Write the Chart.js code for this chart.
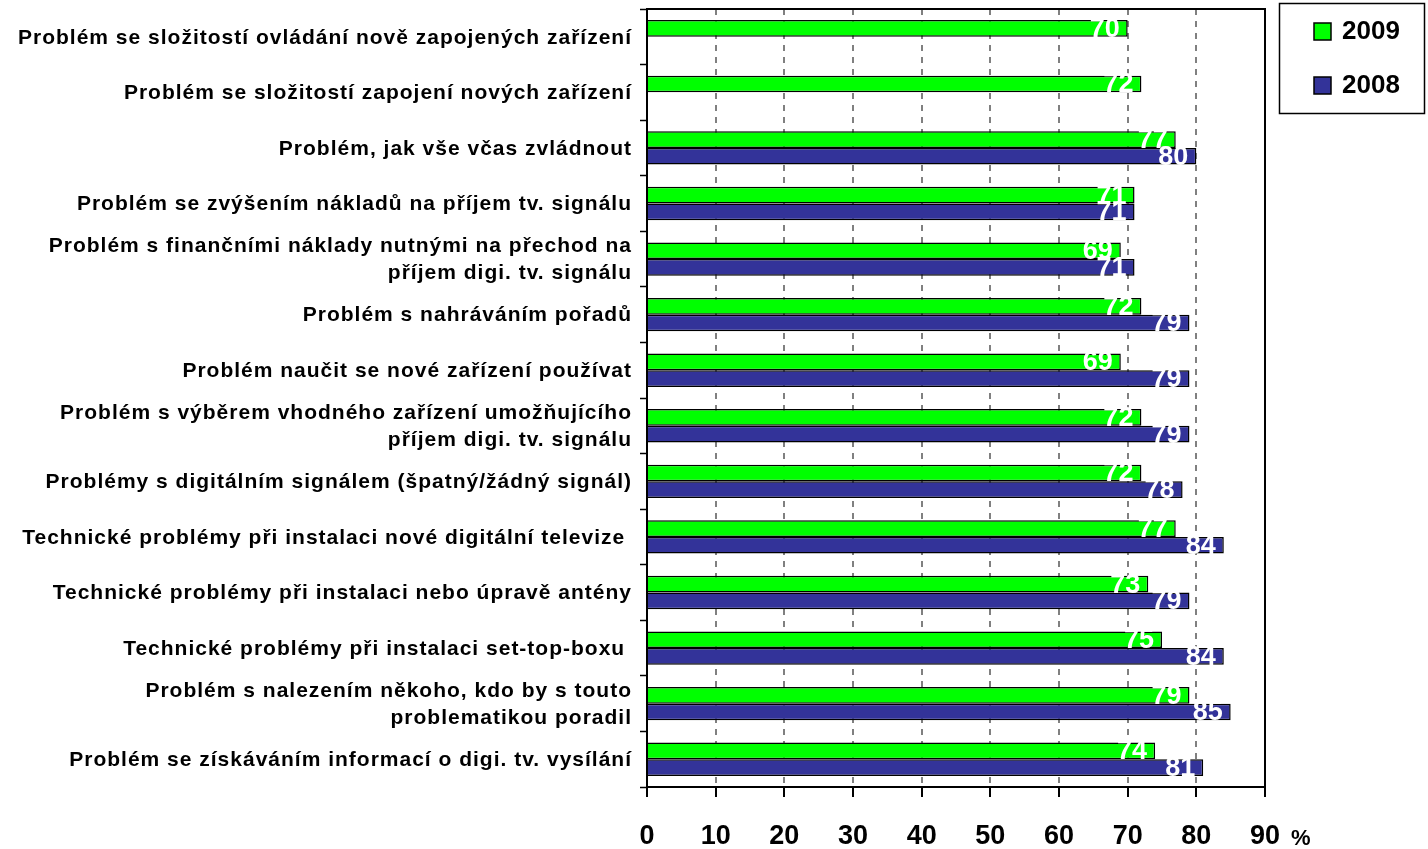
<!DOCTYPE html>
<html>
<head>
<meta charset="utf-8">
<script src="https://cdn.jsdelivr.net/npm/chart.js@4.4.0/dist/chart.umd.min.js"></script>
<style>
  body { margin: 0; background: #fff; }
  #wrap { width: 1428px; height: 849px; }
</style>
</head>
<body>
<div id="wrap"><canvas id="problemsChart" width="1428" height="849"></canvas></div>
<script>
const categories = [
  'Problém se složitostí ovládání nově zapojených zařízení',
  'Problém se složitostí zapojení nových zařízení',
  'Problém, jak vše včas zvládnout',
  'Problém se zvýšením nákladů na příjem tv. signálu',
  ['Problém s finančními náklady nutnými na přechod na', 'příjem digi. tv. signálu'],
  'Problém s nahráváním pořadů',
  'Problém naučit se nové zařízení používat',
  ['Problém s výběrem vhodného zařízení umožňujícího', 'příjem digi. tv. signálu'],
  'Problémy s digitálním signálem (špatný/žádný signál)',
  'Technické problémy při instalaci nové digitální televize ',
  'Technické problémy při instalaci nebo úpravě antény',
  'Technické problémy při instalaci set-top-boxu ',
  ['Problém s nalezením někoho, kdo by s touto', 'problematikou poradil'],
  'Problém se získáváním informací o digi. tv. vysílání'
];
const values2009 = [70, 72, 77, 71, 69, 72, 69, 72, 72, 77, 73, 75, 79, 74];
const values2008 = [null, null, 80, 71, 71, 79, 79, 79, 78, 84, 79, 84, 85, 81];
const xTicks = [0, 10, 20, 30, 40, 50, 60, 70, 80, 90];

const FONT = '"Liberation Sans", Arial, sans-serif';

// category labels, white value labels, plot frame, legend and "%"
const extras = {
  id: 'extras',
  afterDatasetsDraw(chart) {
    const ctx = chart.ctx;
    ctx.save();
    ctx.font = 'bold 27px ' + FONT;
    ctx.fillStyle = '#fff';
    ctx.textAlign = 'right';
    ctx.textBaseline = 'middle';
    chart.data.datasets.forEach((ds, i) => {
      chart.getDatasetMeta(i).data.forEach((bar, j) => {
        if (ds.data[j] == null) return;
        ctx.fillText(String(ds.data[j]), bar.x - 8, bar.y + 1);
      });
    });
    ctx.restore();
  },
  afterDraw(chart) {
    const ctx = chart.ctx;
    const a = chart.chartArea;
    const yScale = chart.scales.y;
    ctx.save();

    // category labels, right aligned against the axis
    ctx.font = 'bold 21px ' + FONT;
    ctx.letterSpacing = '1px';
    ctx.fillStyle = '#000';
    ctx.textAlign = 'right';
    ctx.textBaseline = 'middle';
    categories.forEach((cat, i) => {
      const lines = Array.isArray(cat) ? cat : [cat];
      const cy = yScale.getPixelForValue(i);
      const lh = 27;
      lines.forEach((ln, k) => {
        ctx.fillText(ln, 632, cy + 1 + (k - (lines.length - 1) / 2) * lh);
      });
    });
    ctx.letterSpacing = '0px';

    // top and right frame of the plot
    ctx.strokeStyle = '#000';
    ctx.lineWidth = 2;
    ctx.beginPath();
    ctx.moveTo(a.left, a.top);
    ctx.lineTo(a.right, a.top);
    ctx.lineTo(a.right, a.bottom);
    ctx.stroke();

    // legend box
    ctx.lineWidth = 1.5;
    ctx.strokeRect(1279.5, 3.5, 145, 110);
    const items = [
      { label: '2009', color: '#00ff00', y: 31 },
      { label: '2008', color: '#333399', y: 85 }
    ];
    ctx.font = 'bold 26px ' + FONT;
    ctx.textAlign = 'left';
    items.forEach(it => {
      ctx.fillStyle = it.color;
      ctx.fillRect(1314, it.y - 8, 17, 17);
      ctx.strokeRect(1314, it.y - 8, 17, 17);
      ctx.fillStyle = '#000';
      ctx.fillText(it.label, 1342, it.y + 1);
    });

    // unit after the last tick
    ctx.font = 'bold 22px ' + FONT;
    ctx.fillText('%', 1291, 839);
    ctx.restore();
  }
};

const ctx = document.getElementById('problemsChart').getContext('2d');
new Chart(ctx, {
  type: 'bar',
  data: {
    labels: categories,
    datasets: [
      {
        label: '2009',
        data: values2009,
        backgroundColor: '#00ff00',
        borderColor: '#000',
        borderWidth: 1.5,
        borderSkipped: 'start'
      },
      {
        label: '2008',
        data: values2008,
        backgroundColor: '#333399',
        borderColor: '#000',
        borderWidth: 1.5,
        borderSkipped: 'start'
      }
    ]
  },
  options: {
    indexAxis: 'y',
    responsive: false,
    animation: false,
    categoryPercentage: 0.6,
    barPercentage: 1,
    layout: { padding: { top: 9, right: 163, left: 0, bottom: 0 } },
    plugins: {
      legend: { display: false },
      tooltip: { enabled: false }
    },
    scales: {
      x: {
        min: 0,
        max: 90,
        afterBuildTicks: scale => { scale.ticks = xTicks.map(v => ({ value: v })); },
        afterFit: scale => {
          scale.height = 62;
          scale.paddingLeft = 0;
          scale.paddingRight = 0;
        },
        grid: {
          color: '#808080',
          lineWidth: 2,
          tickColor: '#000',
          tickLength: 10,
          tickWidth: 2,
          tickBorderDash: []
        },
        border: { color: '#000', width: 2, dash: [6, 6] },
        ticks: {
          color: '#000',
          padding: 23,
          font: { family: FONT, size: 27, weight: 'bold' }
        }
      },
      y: {
        afterFit: scale => {
          scale.width = 647;
          scale.paddingTop = 0;
          scale.paddingBottom = 0;
        },
        grid: {
          drawOnChartArea: false,
          tickColor: '#000',
          tickLength: 7,
          tickWidth: 1.5
        },
        border: { color: '#000', width: 2 },
        ticks: { display: false, autoSkip: false }
      }
    }
  },
  plugins: [extras]
});
</script>
</body>
</html>
